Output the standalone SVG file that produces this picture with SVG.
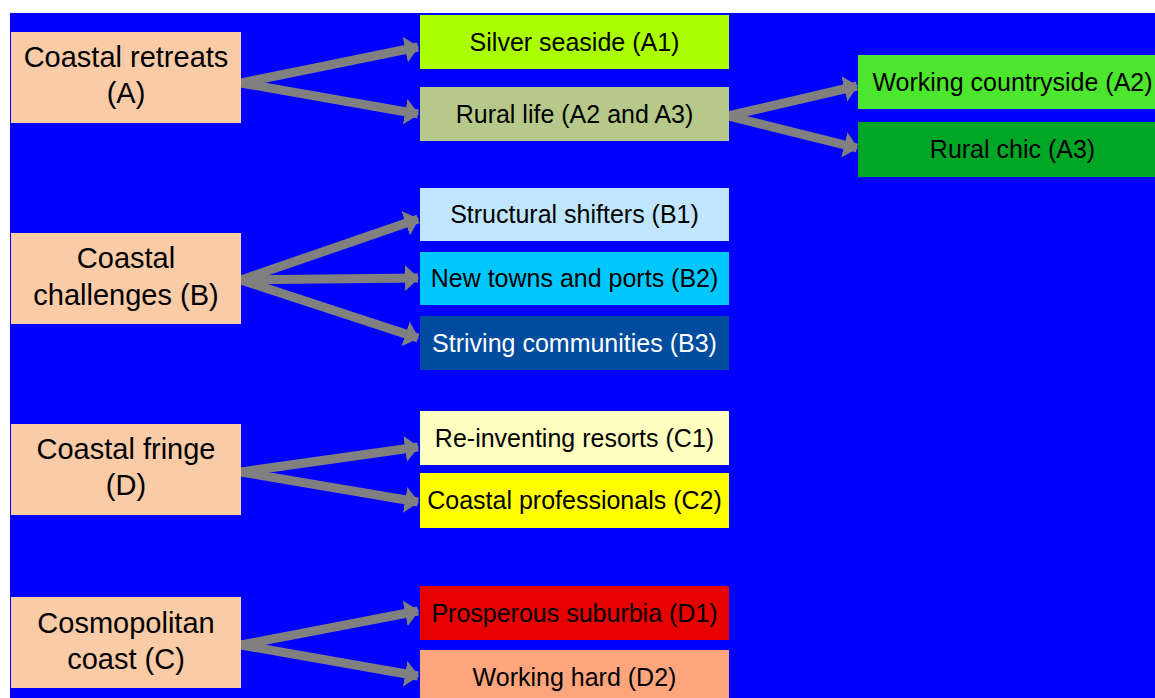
<svg xmlns="http://www.w3.org/2000/svg" width="1155" height="698" viewBox="0 0 1155 698">
<style>
.big{font-family:"Liberation Sans",Arial,sans-serif;font-size:29px;fill:#000;text-anchor:middle}
.sm{font-family:"Liberation Sans",Arial,sans-serif;font-size:25px;fill:#000;text-anchor:middle}
.peach{fill:#F9CBA7}
.arr{stroke:#808080;stroke-width:9;fill:none;marker-end:url(#ah)}
</style>
<defs>
<marker id="ah" markerUnits="userSpaceOnUse" markerWidth="14" markerHeight="26" viewBox="0 0 14 26" refX="13" refY="13" orient="auto">
<path d="M0,0 L14,13 L0,26 Z" fill="#808080"/>
</marker>
</defs>
<rect x="0" y="0" width="1155" height="698" fill="#FFFFFF"/>
<rect x="10" y="13" width="1145" height="685" fill="#0000FF"/>
<g id="connectors">
<line class="arr" x1="241" y1="83" x2="418" y2="47"/>
<line class="arr" x1="241" y1="83" x2="418" y2="114"/>
<line class="arr" x1="728" y1="116" x2="857" y2="86"/>
<line class="arr" x1="728" y1="116" x2="857" y2="148"/>
<line class="arr" x1="241" y1="280" x2="418" y2="219"/>
<line class="arr" x1="241" y1="280" x2="418" y2="278"/>
<line class="arr" x1="241" y1="280" x2="418" y2="338"/>
<line class="arr" x1="241" y1="472" x2="418" y2="447"/>
<line class="arr" x1="241" y1="472" x2="418" y2="502"/>
<line class="arr" x1="241" y1="645" x2="418" y2="611"/>
<line class="arr" x1="241" y1="645" x2="418" y2="676"/>
</g>
<g id="nodeA"><rect class="peach" x="11" y="32" width="230" height="91"/><text class="big" x="126" y="67">Coastal retreats</text><text class="big" x="126" y="103">(A)</text></g>
<g id="nodeB"><rect class="peach" x="11" y="233" width="230" height="91"/><text class="big" x="126" y="268">Coastal</text><text class="big" x="126" y="305">challenges (B)</text></g>
<g id="nodeD"><rect class="peach" x="11" y="424" width="230" height="91"/><text class="big" x="126" y="459">Coastal fringe</text><text class="big" x="126" y="495">(D)</text></g>
<g id="nodeC"><rect class="peach" x="11" y="597" width="230" height="91"/><text class="big" x="126" y="633">Cosmopolitan</text><text class="big" x="126" y="669">coast (C)</text></g>
<g id="nodeA1"><rect x="420" y="15" width="309" height="54" fill="#AAFF00"/><text class="sm" x="574.5" y="50.5">Silver seaside (A1)</text></g>
<g id="nodeA23"><rect x="420" y="87" width="309" height="54" fill="#B6C98A"/><text class="sm" x="574.5" y="122.5">Rural life (A2 and A3)</text></g>
<g id="nodeA2"><rect x="858" y="55" width="309" height="54" fill="#4BE62D"/><text class="sm" x="1012.5" y="90.5">Working countryside (A2)</text></g>
<g id="nodeA3"><rect x="858" y="122" width="309" height="55" fill="#00A626"/><text class="sm" x="1012.5" y="158">Rural chic (A3)</text></g>
<g id="nodeB1"><rect x="420" y="188" width="309" height="53" fill="#C0E6FF"/><text class="sm" x="574.5" y="223">Structural shifters (B1)</text></g>
<g id="nodeB2"><rect x="420" y="252" width="309" height="53" fill="#00C8FF"/><text class="sm" x="574.5" y="287">New towns and ports (B2)</text></g>
<g id="nodeB3"><rect x="420" y="316" width="309" height="54" fill="#004C9E"/><text class="sm" x="574.5" y="351.5" style="fill:#FFFFFF">Striving communities (B3)</text></g>
<g id="nodeC1"><rect x="420" y="411" width="309" height="54" fill="#FFFFBF"/><text class="sm" x="574.5" y="446.5">Re-inventing resorts (C1)</text></g>
<g id="nodeC2"><rect x="420" y="473" width="309" height="55" fill="#FFFF00"/><text class="sm" x="574.5" y="509">Coastal professionals (C2)</text></g>
<g id="nodeD1"><rect x="420" y="586" width="309" height="54" fill="#E60000"/><text class="sm" x="574.5" y="621.5">Prosperous suburbia (D1)</text></g>
<g id="nodeD2"><rect x="420" y="650" width="309" height="54" fill="#FFA57E"/><text class="sm" x="574.5" y="685.5">Working hard (D2)</text></g>
</svg>
